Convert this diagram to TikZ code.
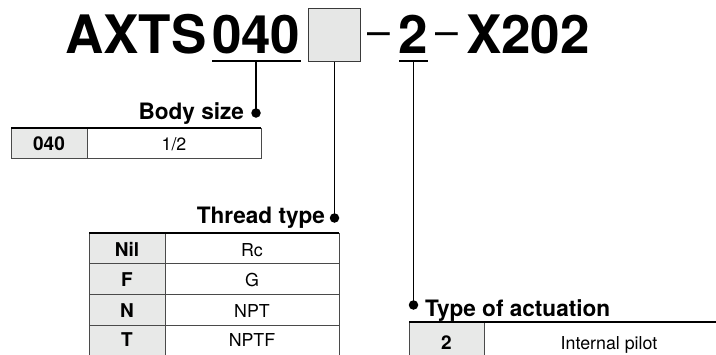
\documentclass[tikz,border=0pt]{standalone}
\usepackage{fontspec}
\setmainfont{TeX Gyre Heros}
\definecolor{cellgray}{HTML}{E8E9E8}
\definecolor{boxfill}{HTML}{E6E7E6}
\definecolor{boxedge}{HTML}{3A3A3A}
\definecolor{rulegray}{HTML}{4A4A4A}
\tikzset{
  titletext/.style={font=\fontsize{53}{53}\selectfont\bfseries, inner sep=0pt, outer sep=0pt, anchor=base west},
  dashtext/.style={font=\fontsize{41}{41}\selectfont, inner sep=0pt, outer sep=0pt, anchor=base west},
  conn/.style={line width=1.4pt, black},
  dotm/.style={circle, fill=black, inner sep=0pt, minimum size=9.5pt},
  lbl/.style={font=\fontsize{22.6}{24}\selectfont\bfseries, inner sep=0pt, outer sep=0pt},
  keyt/.style={font=\fontsize{19}{20}\selectfont\bfseries, inner sep=0pt, anchor=base},
  valt/.style={font=\fontsize{17.8}{20}\selectfont, inner sep=0pt, anchor=base},
  toprule/.style={line width=1.8pt, black},
  cellrule/.style={line width=1pt, rulegray},
}
\begin{document}
\begin{tikzpicture}[x=1pt, y=-1pt]
\useasboundingbox (0,0) rectangle (716,354);
\clip (0,0) rectangle (716,354);

% ---- title ----
\node[titletext] (t1) at (65,53) {AXTS};
\node[titletext] (t2) at (212,53) {040};
\node[draw=boxedge, fill=boxfill, line width=1.4pt, minimum width=52pt, minimum height=53pt, inner sep=0pt, outer sep=0pt] (box) at (334.5,35) {};
\node[dashtext] (h1) at (367.5,45.5) {–};
\node[titletext] (t3) at (398,53) {2};
\node[dashtext] (h2) at (435,45.5) {–};
\node[titletext] (t4) at (466,53) {X202};

% underlines
\coordinate (u1a) at (212,61);
\coordinate (u1b) at (301,61);
\coordinate (u1) at (256,61);
\coordinate (u3a) at (399,61);
\coordinate (u3b) at (428,61);
\coordinate (u3) at (413.5,61);
\draw[conn] (u1a) -- (u1b);
\draw[conn] (u3a) -- (u3b);

% dots and labels
\node[dotm] (d1) at (256,113) {};
\node[dotm] (d2) at (334.5,218) {};
\node[dotm] (d3) at (413.5,305) {};
\draw[conn] (u1) -- (d1.center);
\draw[conn] (box.south) -- (d2.center);
\draw[conn] (u3) -- (d3.center);

\node[lbl, anchor=base east] (l1) at (244,119) {Body size};
\node[lbl, anchor=base east] (l2) at (325,223) {Thread type};
\node[lbl, anchor=base west] (l3) at (425,316) {Type of actuation};

% ---- table 1: body size ----
\fill[cellgray] (11,128) rectangle (87,158);
\draw[cellrule] (11,128) -- (11,158) -- (261,158) -- (261,128);
\draw[cellrule] (87,128) -- (87,158);
\draw[toprule] (11,128) -- (261,128);
\node[keyt] (a1) at (49,150.5) {040};
\node[valt] (b1) at (174,150.5) {1/2};

% ---- table 2: thread type ----
\fill[cellgray] (89,233) rectangle (165,360);
\draw[cellrule] (89,233) -- (89,360);
\draw[cellrule] (165,233) -- (165,360);
\draw[cellrule] (339,233) -- (339,360);
\draw[cellrule] (89,263) -- (339,263);
\draw[cellrule] (89,294) -- (339,294);
\draw[cellrule] (89,325) -- (339,325);
\draw[toprule] (89,233) -- (339,233);
\node[keyt] (a2) at (127,256) {Nil};
\node[valt] (b2) at (252,256) {Rc};
\node[keyt] (a3) at (127,286.5) {F};
\node[valt] (b3) at (252,286.5) {G};
\node[keyt] (a4) at (127,317) {N};
\node[valt] (b4) at (252,317) {NPT};
\node[keyt] (a5) at (127,346.5) {T};
\node[valt] (b5) at (252,346.5) {NPTF};

% ---- table 3: type of actuation ----
\fill[cellgray] (409,322) rectangle (484,370);
\draw[cellrule] (409,322) -- (409,370);
\draw[cellrule] (484,322) -- (484,370);
\draw[toprule] (409,322) -- (740,322);
\node[keyt] (a6) at (446.5,349) {2};
\node[valt] (b6) at (609,349) {Internal pilot};
\end{tikzpicture}
\end{document}
